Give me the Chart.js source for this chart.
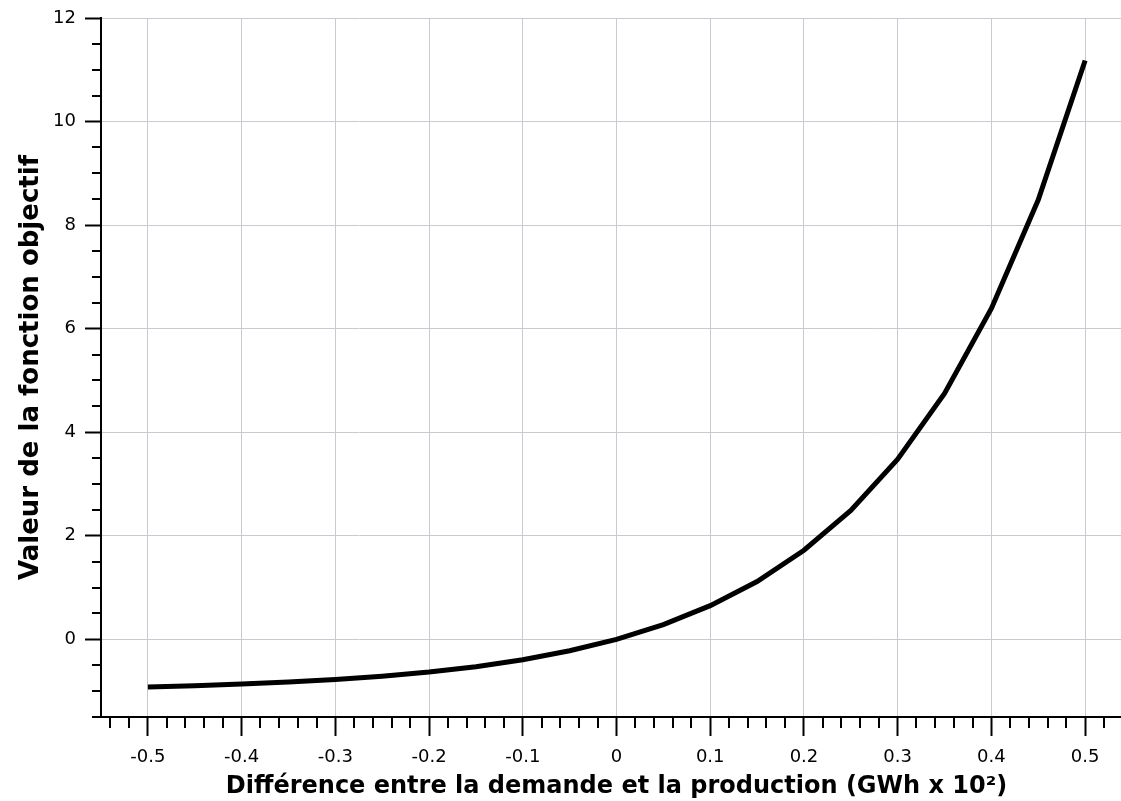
<!DOCTYPE html>
<html>
<head>
<meta charset="utf-8">
<script src="https://cdn.jsdelivr.net/npm/chart.js@4.4.0/dist/chart.umd.min.js"></script>
<style>
  html, body { margin: 0; padding: 0; background: #fff; overflow: hidden; }
  #wrap { width: 1134px; height: 801px; }
</style>
</head>
<body>
<div id="wrap"><canvas id="objChart" width="1134" height="801"></canvas></div>
<script>
// values
const diffValues = [-0.5, -0.45, -0.4, -0.35, -0.3, -0.25, -0.2, -0.15, -0.1, -0.05,
    0, 0.05, 0.1, 0.15, 0.2, 0.25, 0.3, 0.35, 0.4, 0.45, 0.5];
const objValues = [-0.92, -0.895, -0.865, -0.826, -0.777, -0.713, -0.632, -0.528, -0.393, -0.221,
    0, 0.284, 0.65, 1.117, 1.72, 2.49, 3.48, 4.75, 6.39, 8.49, 11.18];

const xTickValues = [-0.5, -0.4, -0.3, -0.2, -0.1, 0, 0.1, 0.2, 0.3, 0.4, 0.5];
const yTickValues = [0, 2, 4, 6, 8, 10, 12];

const xTitle = 'Différence entre la demande et la production (GWh x 10²)';
const yTitle = 'Valeur de la fonction objectif';

const fontFamily = '"DejaVu Sans", sans-serif';
const gridColor = '#c9c9d2';

// small unlabelled ticks between the major ones
const minorTicks = {
    id: 'minorTicks',
    afterDraw(chart) {
        const ctx = chart.ctx;
        const xs = chart.scales.x;
        const ys = chart.scales.y;
        ctx.save();
        ctx.strokeStyle = '#000';
        ctx.lineWidth = 2;
        ctx.beginPath();
        for (let i = -27; i <= 27; i++) {
            if (i % 5 === 0) continue;
            const px = Math.round(xs.getPixelForValue(i * 0.02));
            ctx.moveTo(px, xs.top);
            ctx.lineTo(px, xs.top + 11);
        }
        for (let j = -3; j <= 24; j++) {
            if (j % 4 === 0) continue;
            const py = Math.round(ys.getPixelForValue(j * 0.5));
            ctx.moveTo(ys.right, py);
            ctx.lineTo(ys.right - 9, py);
        }
        ctx.stroke();
        ctx.restore();
    }
};

const ctx = document.getElementById('objChart').getContext('2d');
const objChart = new Chart(ctx, {
    type: 'line',
    data: {
        datasets: [{
            data: diffValues.map((d, i) => ({ x: d, y: objValues[i] })),
            borderColor: '#000',
            borderWidth: 5,
            pointRadius: 0,
            tension: 0,
            fill: false,
        }],
    },
    options: {
        responsive: false,
        animation: false,
        layout: { padding: { top: 18, right: 2, left: 0, bottom: 0 } },
        plugins: {
            legend: { display: false },
            tooltip: { enabled: false },
        },
        scales: {
            x: {
                type: 'linear',
                min: -0.55,
                max: 0.55,
                afterBuildTicks: (scale) => {
                    scale.ticks = xTickValues.map(v => ({ value: v }));
                },
                afterFit: (scale) => {
                    scale.height = 84;
                    scale.paddingLeft = 0;
                    scale.paddingRight = 0;
                },
                grid: {
                    color: gridColor,
                    lineWidth: 1,
                    tickColor: '#000',
                    tickLength: 19,
                    tickWidth: 2,
                },
                border: { color: '#000', width: 2 },
                ticks: {
                    color: '#000',
                    padding: 11,
                    maxRotation: 0,
                    font: { family: fontFamily, size: 18 },
                    callback: (v) => String(v),
                },
                title: {
                    display: true,
                    text: xTitle,
                    color: '#000',
                    padding: { top: 0, bottom: 0 },
                    font: { family: fontFamily, size: 24, weight: 'bold' },
                },
            },
            y: {
                min: -1.5,
                max: 12,
                afterBuildTicks: (scale) => {
                    scale.ticks = yTickValues.map(v => ({ value: v }));
                },
                afterFit: (scale) => {
                    scale.width = 101;
                    scale.paddingTop = 0;
                    scale.paddingBottom = 0;
                },
                grid: {
                    color: gridColor,
                    lineWidth: 1,
                    tickColor: '#000',
                    tickLength: 16,
                    tickWidth: 2,
                },
                border: { color: '#000', width: 2 },
                ticks: {
                    color: '#000',
                    padding: 9,
                    font: { family: fontFamily, size: 18 },
                },
                title: {
                    display: true,
                    text: yTitle,
                    color: '#000',
                    padding: { top: 16, bottom: 0 },
                    font: { family: fontFamily, size: 26, weight: 'bold' },
                },
            },
        },
    },
    plugins: [minorTicks],
});
</script>
</body>
</html>
